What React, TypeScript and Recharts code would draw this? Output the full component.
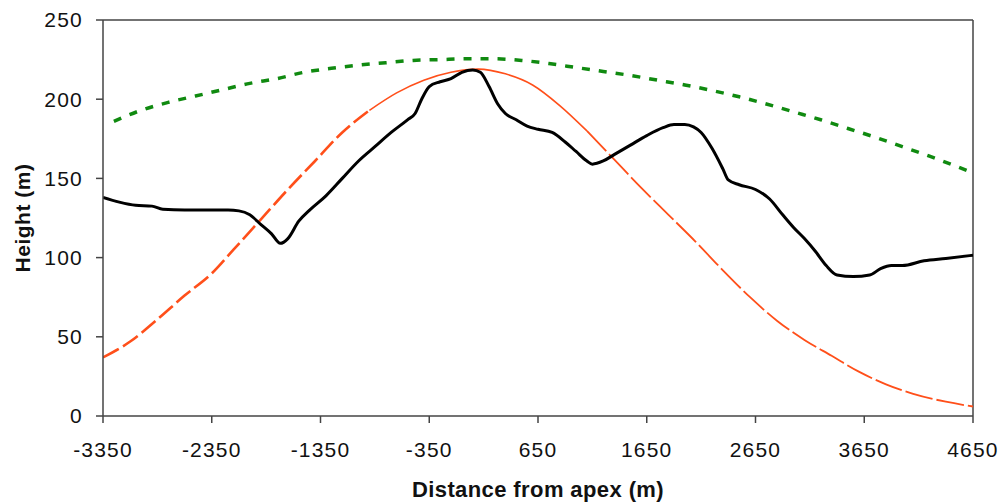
import { LineChart, Line, XAxis, YAxis, ReferenceLine } from 'recharts';

// Distance from the apex (m) and measured heights (m)
const terrainDist = [
    -3350, -3200, -3050, -2900, -2800, -2600, -2400, -2200, -2100, -2000, -1900, -1800, -1720, -1650,
    -1550, -1450, -1300, -1150, -1000, -850, -700, -550, -480, -420, -350, -250, -150, -50, 50, 120,
    200, 280, 350, 450, 550, 650, 780, 900, 1000, 1100, 1150, 1250, 1350, 1500, 1650, 1800, 1900,
    2000, 2080, 2150, 2250, 2350, 2400, 2500, 2650, 2780, 2900, 3000, 3100, 3200, 3300, 3400, 3550,
    3700, 3800, 3900, 4000, 4200, 4400, 4650,
];
const terrainHeight = [
    138, 135, 133, 132.5, 130.5, 130, 130, 130, 129.5, 127, 121, 115, 109, 112,
    123, 130, 139, 150, 161, 170, 179, 187, 191, 200, 208, 211, 213, 217, 218.5, 217,
    208, 197, 191, 187, 183, 181, 179, 173, 167, 161, 159, 161, 165, 171, 177, 182, 184,
    184, 182.5, 179, 169, 156, 149, 146, 143, 137, 127, 119, 112, 104, 95, 89, 88,
    89, 93, 95, 95, 98, 99.5, 101.5,
];

// Modelled profile (orange)
const modelDist = [
    -3350, -3100, -2850, -2600, -2350, -2150, -1900, -1650, -1400, -1150, -900, -650, -400, -150,
    100, 350, 600, 850, 1100, 1350, 1600, 1850, 2100, 2350, 2600, 2850, 3100, 3350, 3600, 3850,
    4100, 4400, 4650,
];
const modelHeight = [
    37, 47, 61, 76, 90, 105, 124, 143, 161, 179, 193, 204, 212, 217,
    219, 216, 209, 196, 180, 162, 144, 127, 110, 92, 75, 60, 48, 38, 28, 20,
    14, 9, 6,
];

// Envelope (green)
const envDist = [
    -3250, -3000, -2750, -2500, -2250, -2000, -1750, -1500, -1250, -1000, -750, -500, -250, 0,
    250, 500, 750, 1000, 1250, 1500, 1750, 2000, 2250, 2500, 2750, 3000, 3250, 3500, 3750, 4000,
    4250, 4500, 4650,
];
const envHeight = [
    186, 193, 198, 202, 206, 210, 213, 217, 219.5, 221.5, 223, 224.5, 225, 225.5,
    225.5, 224.5, 222.5, 220, 217.5, 215, 212, 209, 205.5, 201.5, 197, 192, 187, 181.5, 176, 170,
    164, 157.5, 153.5,
];

const xTicks = [-3350, -2350, -1350, -350, 650, 1650, 2650, 3650, 4650];
const yTicks = [0, 50, 100, 150, 200, 250];

const zip = (xs: number[], ys: number[]) => xs.map((d, i) => ({ d, h: ys[i] }));

const terrain = zip(terrainDist, terrainHeight);
const model = zip(modelDist, modelHeight);
const envelope = zip(envDist, envHeight);

// the modelled curve is drawn in three pieces: heavy dashes, thin solid crest, light dashes
const modelLeft = model.filter((p) => p.d <= -900);
const modelTop = model.filter((p) => p.d >= -900 && p.d <= 1100);
const modelRight = model.filter((p) => p.d >= 1100);

const FONT = '"Liberation Sans", Arial, sans-serif';
const AXIS = '#444';
const tickStyle = { fill: '#111', fontSize: 21, fontFamily: FONT, letterSpacing: 1.2 };

export default function App() {
    return (
        <div style={{ width: 1005, height: 502, background: '#fff' }}>
            <style>{`body{margin:0}`}</style>
            <LineChart width={1005} height={502} margin={{ top: 20, right: 32, left: 0, bottom: 0 }}>
                <XAxis
                    dataKey="d"
                    type="number"
                    domain={[-3350, 4650]}
                    ticks={xTicks}
                    allowDataOverflow
                    height={86}
                    stroke={AXIS}
                    strokeWidth={1.5}
                    tickSize={7}
                    tickMargin={19}
                    tick={tickStyle}
                    label={{
                        content: ({ viewBox }: any) => (
                            <text
                                x={viewBox.x + viewBox.width / 2}
                                y={viewBox.y + 81}
                                textAnchor="middle"
                                fontFamily={FONT}
                                fontWeight="bold"
                                fontSize={22}
                                letterSpacing={0.4}
                                fill="#111"
                            >
                                Distance from apex (m)
                            </text>
                        ),
                    }}
                />
                <YAxis
                    dataKey="h"
                    type="number"
                    domain={[0, 250]}
                    ticks={yTicks}
                    width={103}
                    stroke={AXIS}
                    strokeWidth={1.5}
                    tickSize={7}
                    tickMargin={13}
                    tick={tickStyle}
                    label={{
                        content: ({ viewBox }: any) => {
                            const cx = 22;
                            const cy = viewBox.y + viewBox.height / 2;
                            return (
                                <text
                                    x={cx}
                                    y={cy}
                                    transform={`rotate(-90 ${cx} ${cy})`}
                                    textAnchor="middle"
                                    dominantBaseline="central"
                                    fontFamily={FONT}
                                    fontWeight="bold"
                                    fontSize={21}
                                    letterSpacing={0.5}
                                    fill="#111"
                                >
                                    Height (m)
                                </text>
                            );
                        },
                    }}
                />
                {/* frame on top and right */}
                <ReferenceLine y={250} stroke={AXIS} strokeWidth={1.5} />
                <ReferenceLine x={4650} stroke={AXIS} strokeWidth={1.5} />

                <Line data={envelope} dataKey="h" type="monotone" stroke="#108a10" strokeWidth={3.5}
                    strokeDasharray="8 9" dot={false} isAnimationActive={false} />
                <Line data={modelLeft} dataKey="h" type="monotone" stroke="#ff4f1a" strokeWidth={2.6}
                    strokeDasharray="18 5" dot={false} isAnimationActive={false} />
                <Line data={modelTop} dataKey="h" type="monotone" stroke="#ff4f1a" strokeWidth={1.6}
                    dot={false} isAnimationActive={false} />
                <Line data={modelRight} dataKey="h" type="monotone" stroke="#ff4f1a" strokeWidth={1.8}
                    strokeDasharray="28 4" dot={false} isAnimationActive={false} />
                <Line data={terrain} dataKey="h" type="monotone" stroke="#000" strokeWidth={3}
                    dot={false} isAnimationActive={false} />
            </LineChart>
        </div>
    );
}
